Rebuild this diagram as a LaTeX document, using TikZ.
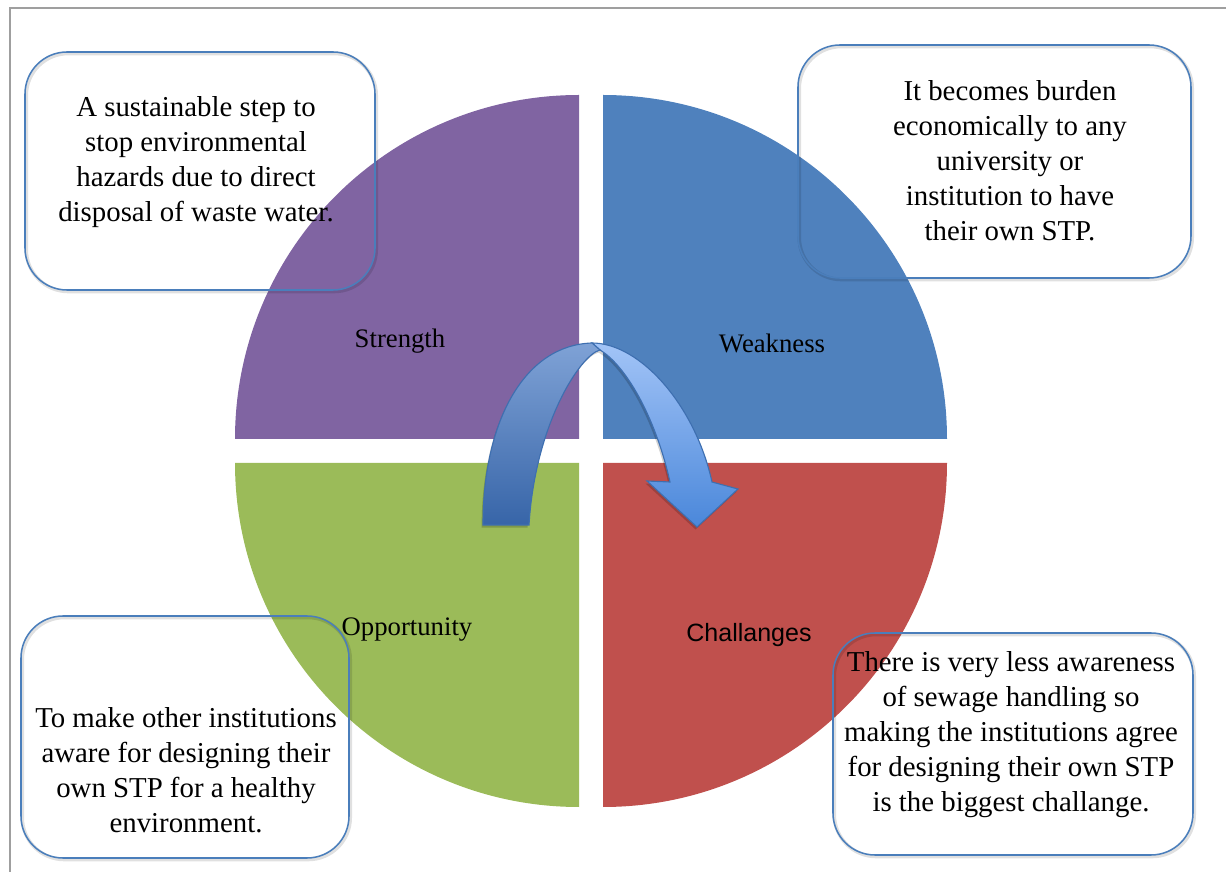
\documentclass[tikz,border=0pt]{standalone}
\usepackage{fontspec}
\setmainfont{Liberation Serif}
\newfontfamily\labelsans{Liberation Sans}
\definecolor{strcol}{HTML}{8064A2}
\definecolor{weakcol}{HTML}{4F81BD}
\definecolor{oppcol}{HTML}{9BBB59}
\definecolor{chalcol}{HTML}{C0504D}
\definecolor{boxline}{HTML}{4A7EBB}
\definecolor{arrowline}{HTML}{3E6FB0}
\definecolor{arrowtopa}{HTML}{A2C4F7}
\definecolor{arrowbota}{HTML}{4A87DA}
\definecolor{arrowtopb}{HTML}{7FA2D6}
\definecolor{arrowbotb}{HTML}{3765A8}
\tikzset{
  infobox/.style={draw=boxline, line width=1.1pt, rounded corners=1.05cm,
    preaction={draw=black, opacity=0.12, line width=2.5pt,
      transform canvas={shift={(0.9pt,-1.1pt)}}}},
  arrowpart/.style={draw=arrowline, line width=0.8pt,
    preaction={fill=black, opacity=0.18,
      transform canvas={shift={(-1pt,-1.8pt)}}}},
  boxtext/.style={align=center, font=\fontsize{20.5}{24.9}\selectfont},
  quadlabel/.style={font=\fontsize{19}{23}\selectfont}
}
\begin{document}
\begin{tikzpicture}[x=0.025cm,y=-0.025cm]
\useasboundingbox (0,0) rectangle (1226,872);
\draw[gray!75, line width=1.2pt] (10,872)--(10,8)--(1226,8);
\fill[strcol] (579,439) -- ++(180:344) arc[start angle=180,end angle=270,radius=344] -- cycle;
\fill[weakcol] (603,439) -- ++(270:344) arc[start angle=270,end angle=360,radius=344] -- cycle;
\fill[oppcol] (579,463) -- ++(90:344) arc[start angle=90,end angle=180,radius=344] -- cycle;
\fill[chalcol] (603,463) -- ++(0:344) arc[start angle=0,end angle=90,radius=344] -- cycle;
\node[quadlabel] (strength) at (400,341) {Strength};
\node[quadlabel] (weakness) at (772,343) {Weakness};
\node[quadlabel] (opportunity) at (407,630) {Opportunity};
\node[font=\labelsans\fontsize{17.8}{22}\selectfont] (challanges) at (749,635) {Challanges};
\draw[arrowpart, top color=arrowtopa, bottom color=arrowbota]
  (592,343) .. controls (640,343) and (695,405) .. (712,482)
  -- (738,489) -- (697,527) -- (647,481) -- (670,482)
  .. controls (655,415) and (625,365) .. (600,350) -- cycle;
\draw[arrowpart, top color=arrowtopb, bottom color=arrowbotb]
  (483,525) .. controls (483,420) and (525,345) .. (592,343)
  -- (600,350) .. controls (580,355) and (535,425) .. (529,525) -- cycle;
\draw[infobox] (25,52) rectangle (375,290);
\node[boxtext] (strtext) at (196,162) {A sustainable step to\\stop environmental\\hazards due to direct\\disposal of waste water.};
\draw[infobox] (798,45) rectangle (1191,278);
\node[boxtext] (weaktext) at (1010,161) {It becomes burden\\economically to any\\university or\\institution to have\\their own STP.};
\draw[infobox] (21,616) rectangle (349,858);
\node[boxtext] (opptext) at (186,770) {To make other institutions\\aware for designing their\\own STP for a healthy\\environment.};
\draw[infobox] (833,633) rectangle (1193,855);
\node[boxtext] (chaltext) at (1011,735) {There is very less awareness\\of sewage handling so\\making the institutions agree\\for designing their own STP\\is the biggest challange.};
\end{tikzpicture}
\end{document}
